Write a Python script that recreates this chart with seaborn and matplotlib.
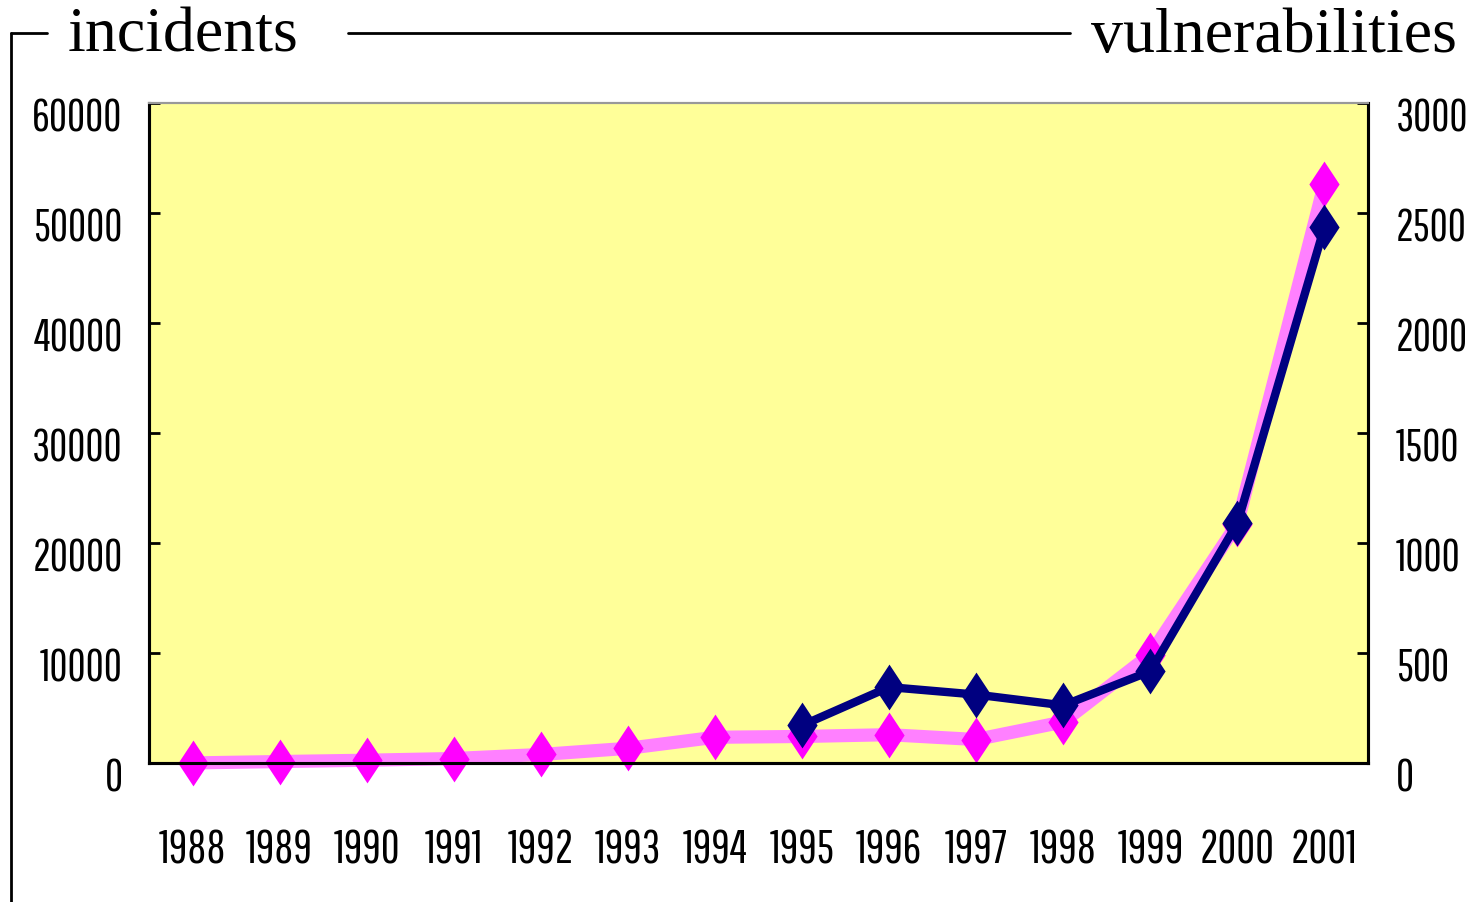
import numpy as np
import pandas as pd
import seaborn as sns
import matplotlib.pyplot as plt
from matplotlib.path import Path
from matplotlib.lines import Line2D
from matplotlib.transforms import ScaledTranslation

# CERT/CC statistics
years = [1988, 1989, 1990, 1991, 1992, 1993, 1994,
         1995, 1996, 1997, 1998, 1999, 2000, 2001]
incidents = [6, 132, 252, 406, 773, 1334, 2340,
             2412, 2573, 2134, 3734, 9859, 21756, 52658]
vuln_years = [1995, 1996, 1997, 1998, 1999, 2000, 2001]
vulnerabilities = [171, 345, 311, 262, 417, 1090, 2437]

inc_df = pd.DataFrame({'year': years, 'count': incidents})
vul_df = pd.DataFrame({'year': vuln_years, 'count': vulnerabilities})

sns.set_style('white')
tick_font = ['Pathway Gothic One', 'DejaVu Sans']
head_font = ['Liberation Serif', 'DejaVu Serif']

# tall diamond marker
diamond = Path([(0, 1), (0.66, 0), (0, -1), (-0.66, 0), (0, 1)],
               [Path.MOVETO, Path.LINETO, Path.LINETO, Path.LINETO, Path.CLOSEPOLY])

fig = plt.figure(figsize=(14.7, 9.02), dpi=100)
ax = fig.add_axes([149 / 1470, 1 - 763 / 902, (1368 - 149) / 1470, (763 - 103) / 902])
ax.set_facecolor('#FFFF99')
ax2 = ax.twinx()

sns.lineplot(data=inc_df, x='year', y='count', ax=ax, color='#FF80FF', linewidth=9.5,
             marker=diamond, markersize=33, markerfacecolor='#FF00FF',
             markeredgecolor='#FF00FF', markeredgewidth=0, zorder=3, clip_on=False)
sns.lineplot(data=vul_df, x='year', y='count', ax=ax2, color='#000080', linewidth=6,
             marker=diamond, markersize=33, markerfacecolor='#000080',
             markeredgecolor='#000080', markeredgewidth=0, zorder=4, clip_on=False)

ax.set_xlim(1987.5, 2001.5)
ax.set_ylim(0, 60000)
ax2.set_ylim(0, 3000)
ax.set_xlabel('')
ax.set_ylabel('')
ax2.set_ylabel('')

ax.set_xticks(years)
ax.set_xticklabels([str(y) for y in years])
ax.set_xticks(np.arange(1988.5, 2001, 1), minor=True)
ax.tick_params(axis='x', which='major', length=0, pad=47, labelsize=33, labelcolor='black')
ax.tick_params(axis='x', which='minor', direction='in', length=9, width=2, color='black')
ax.set_yticks(range(0, 60001, 10000))
ax.tick_params(axis='y', direction='in', length=8, width=2, color='black', pad=19,
               labelsize=32, labelcolor='black', left=True)
ax2.set_yticks(range(0, 3001, 500))
ax2.tick_params(axis='y', direction='in', length=8, width=2, color='black', pad=20,
                labelsize=32, labelcolor='black', right=True)

shift = ScaledTranslation(0, -12 / 100, fig.dpi_scale_trans)
for lab in ax.get_xticklabels() + ax.get_yticklabels() + ax2.get_yticklabels():
    lab.set_family(tick_font)
for lab in ax.get_yticklabels() + ax2.get_yticklabels():
    lab.set_transform(lab.get_transform() + shift)

for a in (ax, ax2):
    for side in ('left', 'bottom', 'right'):
        a.spines[side].set_color('black')
        a.spines[side].set_linewidth(2.2)
    a.spines['top'].set_color('#999999')
    a.spines['top'].set_linewidth(1.5)

# header with bracket lines
fig.text(68 / 1470, 1 - 52 / 902, 'incidents', family=head_font, fontsize=46,
         color='black', ha='left', va='baseline')
fig.text(1457 / 1470, 1 - 52 / 902, 'vulnerabilities', family=head_font, fontsize=46,
         color='black', ha='right', va='baseline')
y_line = 1 - 33 / 902
fig.add_artist(Line2D([11 / 1470, 11 / 1470], [0, y_line], color='black', linewidth=2))
fig.add_artist(Line2D([11 / 1470, 47 / 1470], [y_line, y_line], color='black', linewidth=2))
fig.add_artist(Line2D([348 / 1470, 1070 / 1470], [y_line, y_line], color='black', linewidth=2))

fig.savefig('out.png', dpi=100)
